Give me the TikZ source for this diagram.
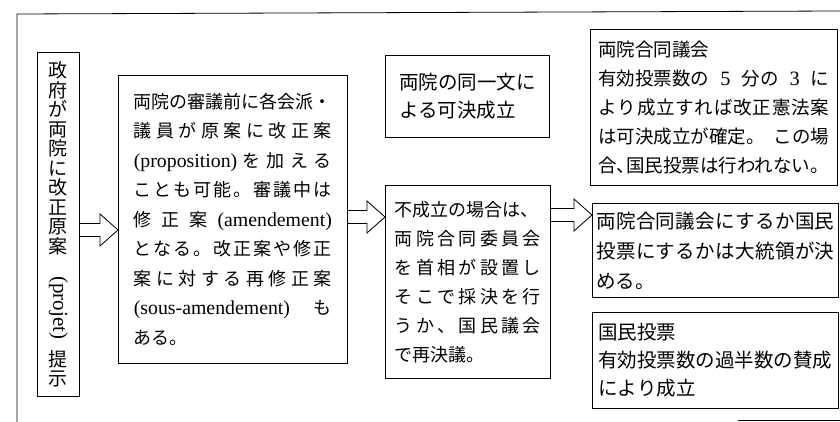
\documentclass[tikz,border=0pt]{standalone}
\usepackage{fontspec}
\usepackage{graphicx}
\setmainfont{Noto Sans CJK JP}
\newfontfamily\lat[Scale=1.1]{Liberation Serif}
\usetikzlibrary{calc}
\makeatletter
\def\sp@end{\relax}
\def\sp@endm{\sp@end}
\def\sp@a#1{\def\sp@t{#1}\ifx\sp@t\sp@endm\else\hfil{#1}\expandafter\sp@a\fi}
\def\sp@b#1{{#1}\sp@a}
\newcommand\spl[2]{\hbox to #1{\sp@b#2\sp@end}}
\makeatother
\tikzset{
  box/.style={draw, line width=0.8pt, inner sep=0pt, anchor=north west, align=left},
  barr/.style={draw, line width=0.8pt, line join=miter},
  frame/.style={draw, line width=0.8pt}
}
\newcommand\blockarrow[3]{%
  \coordinate (s) at (#1.east |- 0,#3);
  \coordinate (t) at (#2.west |- 0,#3);
  \draw[barr] ([yshift=-6.5pt]s) -- ([shift={(-18pt,-6.5pt)}]t) -- ([shift={(-18pt,-16pt)}]t)
    -- (t) -- ([shift={(-18pt,16pt)}]t) -- ([shift={(-18pt,6.5pt)}]t) -- ([yshift=6.5pt]s);}
\begin{document}
\begin{tikzpicture}[x=1pt,y=-1pt]
\useasboundingbox (0,0) rectangle (840,422);
% outer frame
\draw[frame] (17,422) -- (17,14) -- (840,11);
\draw[frame] (738,420) -- (840,420);
% left vertical box
\node[box, align=center, minimum width=42pt, minimum height=344pt,
      font=\fontsize{19}{19.5}\selectfont] (lb) at (37,52)
  {政\\府\\が\\両\\院\\に\\改\\正\\原\\案\\[4pt]\rotatebox{-90}{\lat (projet)}\\[10pt]提\\示};
% box 2
\node[box, minimum width=229pt, minimum height=288pt,
      font=\fontsize{18}{29.5}\selectfont] (b2) at (118,75)
  {\spl{198pt}{両院の審議前に各会派・}\\
   \spl{198pt}{議員が原案に改正案}\\
   \spl{198pt}{{\lat(proposition)}を加える}\\
   \spl{198pt}{ことも可能。審議中は}\\
   \spl{198pt}{修正案{\lat(amendement)}}\\
   \spl{198pt}{となる。改正案や修正}\\
   \spl{198pt}{案に対する再修正案}\\
   \spl{198pt}{{\lat(sous-amendement)}も}\\
   ある。};
% box 3
\node[box, minimum width=164pt, minimum height=82pt,
      font=\fontsize{19.5}{28}\selectfont] (b3) at (385,55)
  {両院の同一文に\\よる可決成立\hspace{19.5pt}};
% box 4
\node[box, minimum width=165pt, minimum height=193pt,
      font=\fontsize{18}{29}\selectfont] (b4) at (385,185)
  {\hbox to 146pt{不成立の場合は、\hss}\\
   \spl{146pt}{両院合同委員会}\\
   \spl{146pt}{を首相が設置し}\\
   \spl{146pt}{そこで採決を行}\\
   \spl{146pt}{うか、国民議会}\\
   で再決議。};
% box 5
\node[box, minimum width=247pt, minimum height=156pt,
      font=\fontsize{18.5}{29}\selectfont] (b5) at (590,29)
  {両院合同議会\\
   \hbox to 231pt{有効投票数の\hfil{\lat 5}\hfil 分の\hfil{\lat 3}\hfil に}\\
   \spl{231pt}{より成立すれば改正憲法案}\\
   \hbox to 231pt{は可決成立が確定。\hfil この場}\\
   合\makebox[.5em][l]{、}国民投票は行われない。};
% box 6
\node[box, minimum width=246pt, minimum height=94pt,
      font=\fontsize{19.5}{30}\selectfont] (b6) at (592,203)
  {\spl{238pt}{両院合同議会にするか国民}\\
   \spl{238pt}{投票にするかは大統領が決}\\
   める。};
% box 7
\node[box, minimum width=246pt, minimum height=96pt,
      font=\fontsize{19.5}{28}\selectfont] (b7) at (592,312)
  {国民投票\\
   有効投票数の過半数の賛成\\
   により成立};
% arrows
\blockarrow{lb}{b2}{230}
\blockarrow{b2}{b4}{217}
\blockarrow{b4}{b6}{215}
\end{tikzpicture}
\end{document}
